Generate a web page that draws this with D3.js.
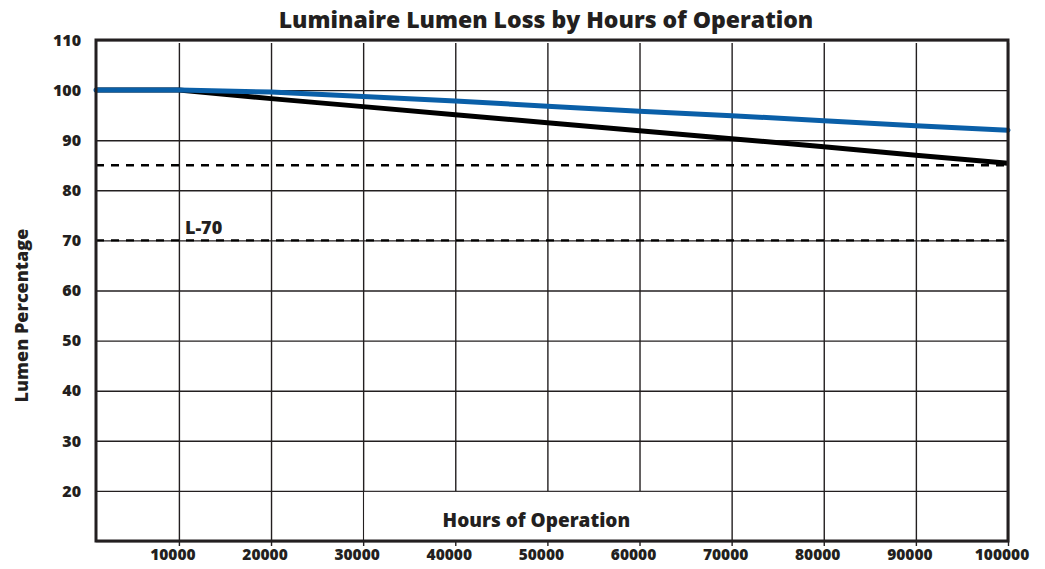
<!DOCTYPE html>
<html>
<head>
<meta charset="utf-8">
<script src="https://cdn.jsdelivr.net/npm/d3@7"></script>
<style>
  body { margin: 0; background: #fff; }
  text { font-family: "Open Sans", Lato, sans-serif; font-weight: 800; fill: #231f20; }
</style>
</head>
<body>
<div id="chart"></div>
<script>
// hours of operation where values were read
const hours = [1000, 10000, 20000, 30000, 40000, 50000, 60000, 70000, 80000, 90000, 100000];
const blueSeries = [100, 100, 99.6, 98.7, 97.8, 96.8, 95.8, 94.9, 93.9, 92.9, 92.0];
const blackSeries = [100, 100, 98.3, 96.7, 95.1, 93.5, 91.9, 90.3, 88.7, 87.0, 85.4];
const xTicks = [10000, 20000, 30000, 40000, 50000, 60000, 70000, 80000, 90000, 100000];
const yTicks = [20, 30, 40, 50, 60, 70, 80, 90, 100, 110];
const refLines = [85, 70];

const W = 1045, H = 569;
const margin = {top: 40, right: 37, bottom: 28, left: 96};
const innerWidth = W - margin.left - margin.right;
const innerHeight = H - margin.top - margin.bottom;
const ink = '#231f20';

const svg = d3.select('#chart').append('svg')
    .attr('width', W)
    .attr('height', H)
    .style('display', 'block');

const x = d3.scaleLinear().domain([1000, 100000]).range([0, innerWidth]);
const y = d3.scaleLinear().domain([10, 110]).range([innerHeight, 0]);

const g = svg.append('g')
    .attr('transform', `translate(${margin.left},${margin.top})`);

// horizontal grid
g.append('g')
    .call(d3.axisLeft(y).tickValues(yTicks.concat([10])).tickSize(-innerWidth).tickFormat(''))
    .call(a => a.select('.domain').remove())
    .call(a => a.selectAll('line').attr('stroke', ink).attr('stroke-width', 1.4));

// vertical grid (with short ticks below the frame)
g.append('g')
    .attr('transform', `translate(0,${innerHeight + 5})`)
    .call(d3.axisBottom(x).tickValues(xTicks).tickSize(-(innerHeight + 2)).tickFormat(''))
    .call(a => a.select('.domain').remove())
    .call(a => a.selectAll('line').attr('stroke', ink).attr('stroke-width', 1.4));

// white box behind the x title
g.append('rect')
    .attr('x', x(30000) + 1)
    .attr('y', y(20) + 1)
    .attr('width', x(70000) - x(30000) - 2)
    .attr('height', y(10) - y(20) - 2)
    .attr('fill', '#fff');

// dashed reference lines
g.selectAll('.ref')
  .data(refLines)
  .join('line')
    .attr('class', 'ref')
    .attr('x1', 0).attr('x2', innerWidth)
    .attr('y1', d => y(d)).attr('y2', d => y(d))
    .attr('stroke', '#000')
    .attr('stroke-width', 2.4)
    .attr('stroke-dasharray', '8,7');

g.append('text')
    .attr('x', x(10000) + 6)
    .attr('y', y(70) - 6)
    .attr('font-size', 18)
    .text('L-70');

const line = d3.line()
    .x((d, i) => x(hours[i]))
    .y(d => y(d));

g.append('path')
    .datum(blackSeries)
    .attr('d', line)
    .attr('fill', 'none')
    .attr('stroke', '#000')
    .attr('stroke-width', 5);

g.append('path')
    .datum(blueSeries)
    .attr('d', line)
    .attr('fill', 'none')
    .attr('stroke', '#0a5fa8')
    .attr('stroke-width', 5)
    .attr('stroke-linecap', 'round');

// frame
g.append('rect')
    .attr('width', innerWidth)
    .attr('height', innerHeight)
    .attr('fill', 'none')
    .attr('stroke', ink)
    .attr('stroke-width', 3);

// tick labels
g.selectAll('.ylab')
  .data(yTicks)
  .join('text')
    .attr('class', 'ylab')
    .attr('x', -15)
    .attr('y', d => y(d))
    .attr('dy', '0.36em')
    .attr('text-anchor', 'end')
    .attr('font-size', 16)
    .text(d => d);

g.selectAll('.xlab')
  .data(xTicks)
  .join('text')
    .attr('class', 'xlab')
    .attr('x', d => x(d) - 6)
    .attr('y', innerHeight + 19)
    .attr('text-anchor', 'middle')
    .attr('font-size', 15.5)
    .text(d => d);

// titles
svg.append('text')
    .attr('x', 546)
    .attr('y', 28)
    .attr('text-anchor', 'middle')
    .attr('font-size', 23)
    .text('Luminaire Lumen Loss by Hours of Operation');

g.append('text')
    .attr('x', (x(30000) + x(70000)) / 2 - 11)
    .attr('y', innerHeight - 14)
    .attr('text-anchor', 'middle')
    .attr('font-size', 19)
    .text('Hours of Operation');

svg.append('text')
    .attr('transform', `translate(28,${margin.top + y(55)}) rotate(-90)`)
    .attr('text-anchor', 'middle')
    .attr('font-size', 18)
    .text('Lumen Percentage');
</script>
</body>
</html>
